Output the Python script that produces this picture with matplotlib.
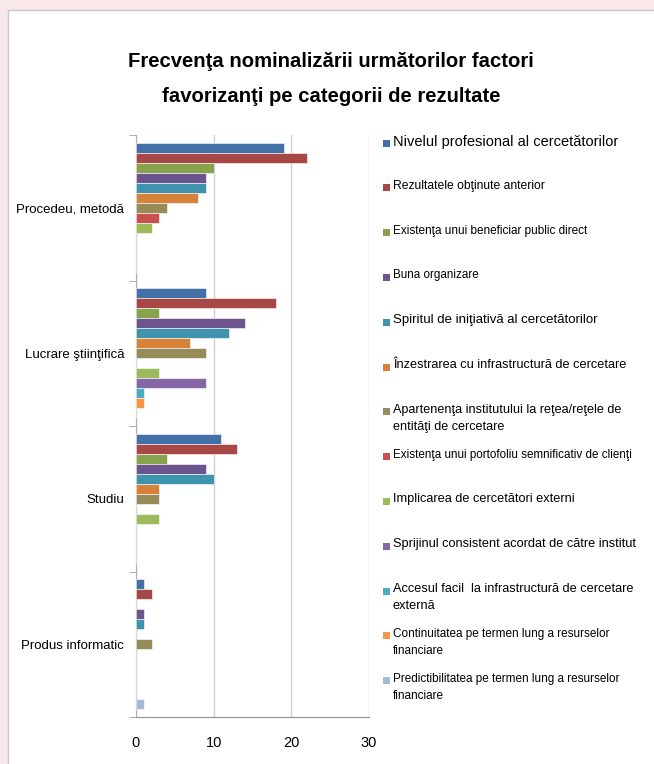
import numpy as np
import matplotlib.pyplot as plt
from matplotlib import font_manager
from matplotlib.patches import Rectangle

categories = ['Procedeu, metodă', 'Lucrare ştiinţifică', 'Studiu', 'Produs informatic']

factors = ['Nivelul profesional al cercetătorilor',
           'Rezultatele obţinute anterior',
           'Existenţa unui beneficiar public direct',
           'Buna organizare',
           'Spiritul de iniţiativă al cercetătorilor',
           'Înzestrarea cu infrastructură de cercetare',
           'Apartenenţa institutului la reţea/reţele de\nentităţi de cercetare',
           'Existenţa unui portofoliu semnificativ de clienţi',
           'Implicarea de cercetători externi',
           'Sprijinul consistent acordat de către institut',
           'Accesul facil  la infrastructură de cercetare\nexternă',
           'Continuitatea pe termen lung a resurselor\nfinanciare',
           'Predictibilitatea pe termen lung a resurselor\nfinanciare']

# one list per factor, values for the 4 categories
nivel = [19, 9, 11, 1]
rezultate = [22, 18, 13, 2]
beneficiar = [10, 3, 4, 0]
organizare = [9, 14, 9, 1]
spirit = [9, 12, 10, 1]
infrastructura = [8, 7, 3, 0]
retea = [4, 9, 3, 2]
portofoliu = [3, 0, 0, 0]
externi = [2, 3, 3, 0]
sprijin = [0, 9, 0, 0]
acces = [0, 1, 0, 0]
continuitate = [0, 1, 0, 0]
predictibilitate = [0, 0, 0, 1]

series = [nivel, rezultate, beneficiar, organizare, spirit, infrastructura, retea,
          portofoliu, externi, sprijin, acces, continuitate, predictibilitate]

colors = ['#4470a8', '#a84846', '#87a34c', '#6c558f', '#3f93ad', '#d6823a', '#968c5a',
          '#c9504d', '#9dbb5a', '#8566a6', '#4bacc6', '#f79646', '#a8b8da']

title = 'Frecvenţa nominalizării următorilor factori\nfavorizanţi pe categorii de rezultate'

# a narrow face if one is installed, otherwise Liberation Sans a bit smaller
installed = {f.name for f in font_manager.fontManager.ttflist}
if 'Liberation Sans Narrow' in installed:
    narrow, k = 'Liberation Sans Narrow', 1.15
else:
    narrow, k = 'Liberation Sans', 1.0
plt.rcParams['font.family'] = [narrow, 'DejaVu Sans']

# the original legend mixes two faces, so the entries do not share one size
legend_sizes = [10.5, 8.7, 8.5, 8.4, 9.5, 9.2, 9.1, 8.4, 9.2, 9.2, 9.2, 8.5, 8.5]

W, H = 654, 764
fig = plt.figure(figsize=(W / 100, H / 100), dpi=100, facecolor='#f8e8e9')

def fx(x):
    return x / W

def fy(y):
    return 1 - y / H

# white slide panel
fig.patches.append(Rectangle((fx(8), -0.01), 1, fy(10) + 0.01, transform=fig.transFigure,
                             facecolor='white', edgecolor='#c8c8c8', lw=1, zorder=-5))

ax = fig.add_axes([fx(136), fy(717), fx(369) - fx(136), fy(135) - fy(717)])
ax.set_facecolor('none')

n = len(series)
h = 0.0687
y = np.arange(len(categories))
for i, vals in enumerate(series):
    ax.barh(y + (i - (n - 1) / 2) * h, vals, height=h, color=colors[i],
            edgecolor='white', linewidth=0.4, zorder=3)

ax.set_xlim(0, 30)
ax.set_ylim(len(categories) - 0.5, -0.5)
ax.set_xticks([0, 10, 20, 30])
ax.tick_params(axis='x', length=0, pad=14, labelsize=10.5)
ax.set_yticks(y)
ax.set_yticklabels(categories, fontsize=9.5, family=['Liberation Sans', 'DejaVu Sans'])
ax.tick_params(axis='y', length=0, pad=8.5)
ax.set_yticks(np.arange(len(categories) + 1) - 0.5, minor=True)
ax.tick_params(axis='y', which='minor', length=5, color='#a0a0a0')
ax.grid(axis='x', color='#d0d0d0', lw=1, zorder=0)
for s in ['top', 'right']:
    ax.spines[s].set_visible(False)
ax.spines['left'].set_color('#b0b0b0')
ax.spines['bottom'].set_color('#909090')

fig.text(fx(331), fy(79), title, ha='center', va='center', fontsize=14.6 * k,
         fontweight='bold', linespacing=2.1)

# legend drawn by hand: Excel spaces entries evenly, whatever the line count
for i, lab in enumerate(factors):
    yc = 143 + i * 44.8
    fig.patches.append(Rectangle((fx(383), fy(yc + 3.5)), 7 / W, 7 / H,
                                 transform=fig.transFigure, facecolor=colors[i],
                                 edgecolor='none'))
    fig.text(fx(393), fy(yc - 8), lab, ha='left', va='top',
             fontsize=legend_sizes[i] * k, linespacing=1.6)

fig.savefig('out.png', dpi=100, facecolor=fig.get_facecolor())
